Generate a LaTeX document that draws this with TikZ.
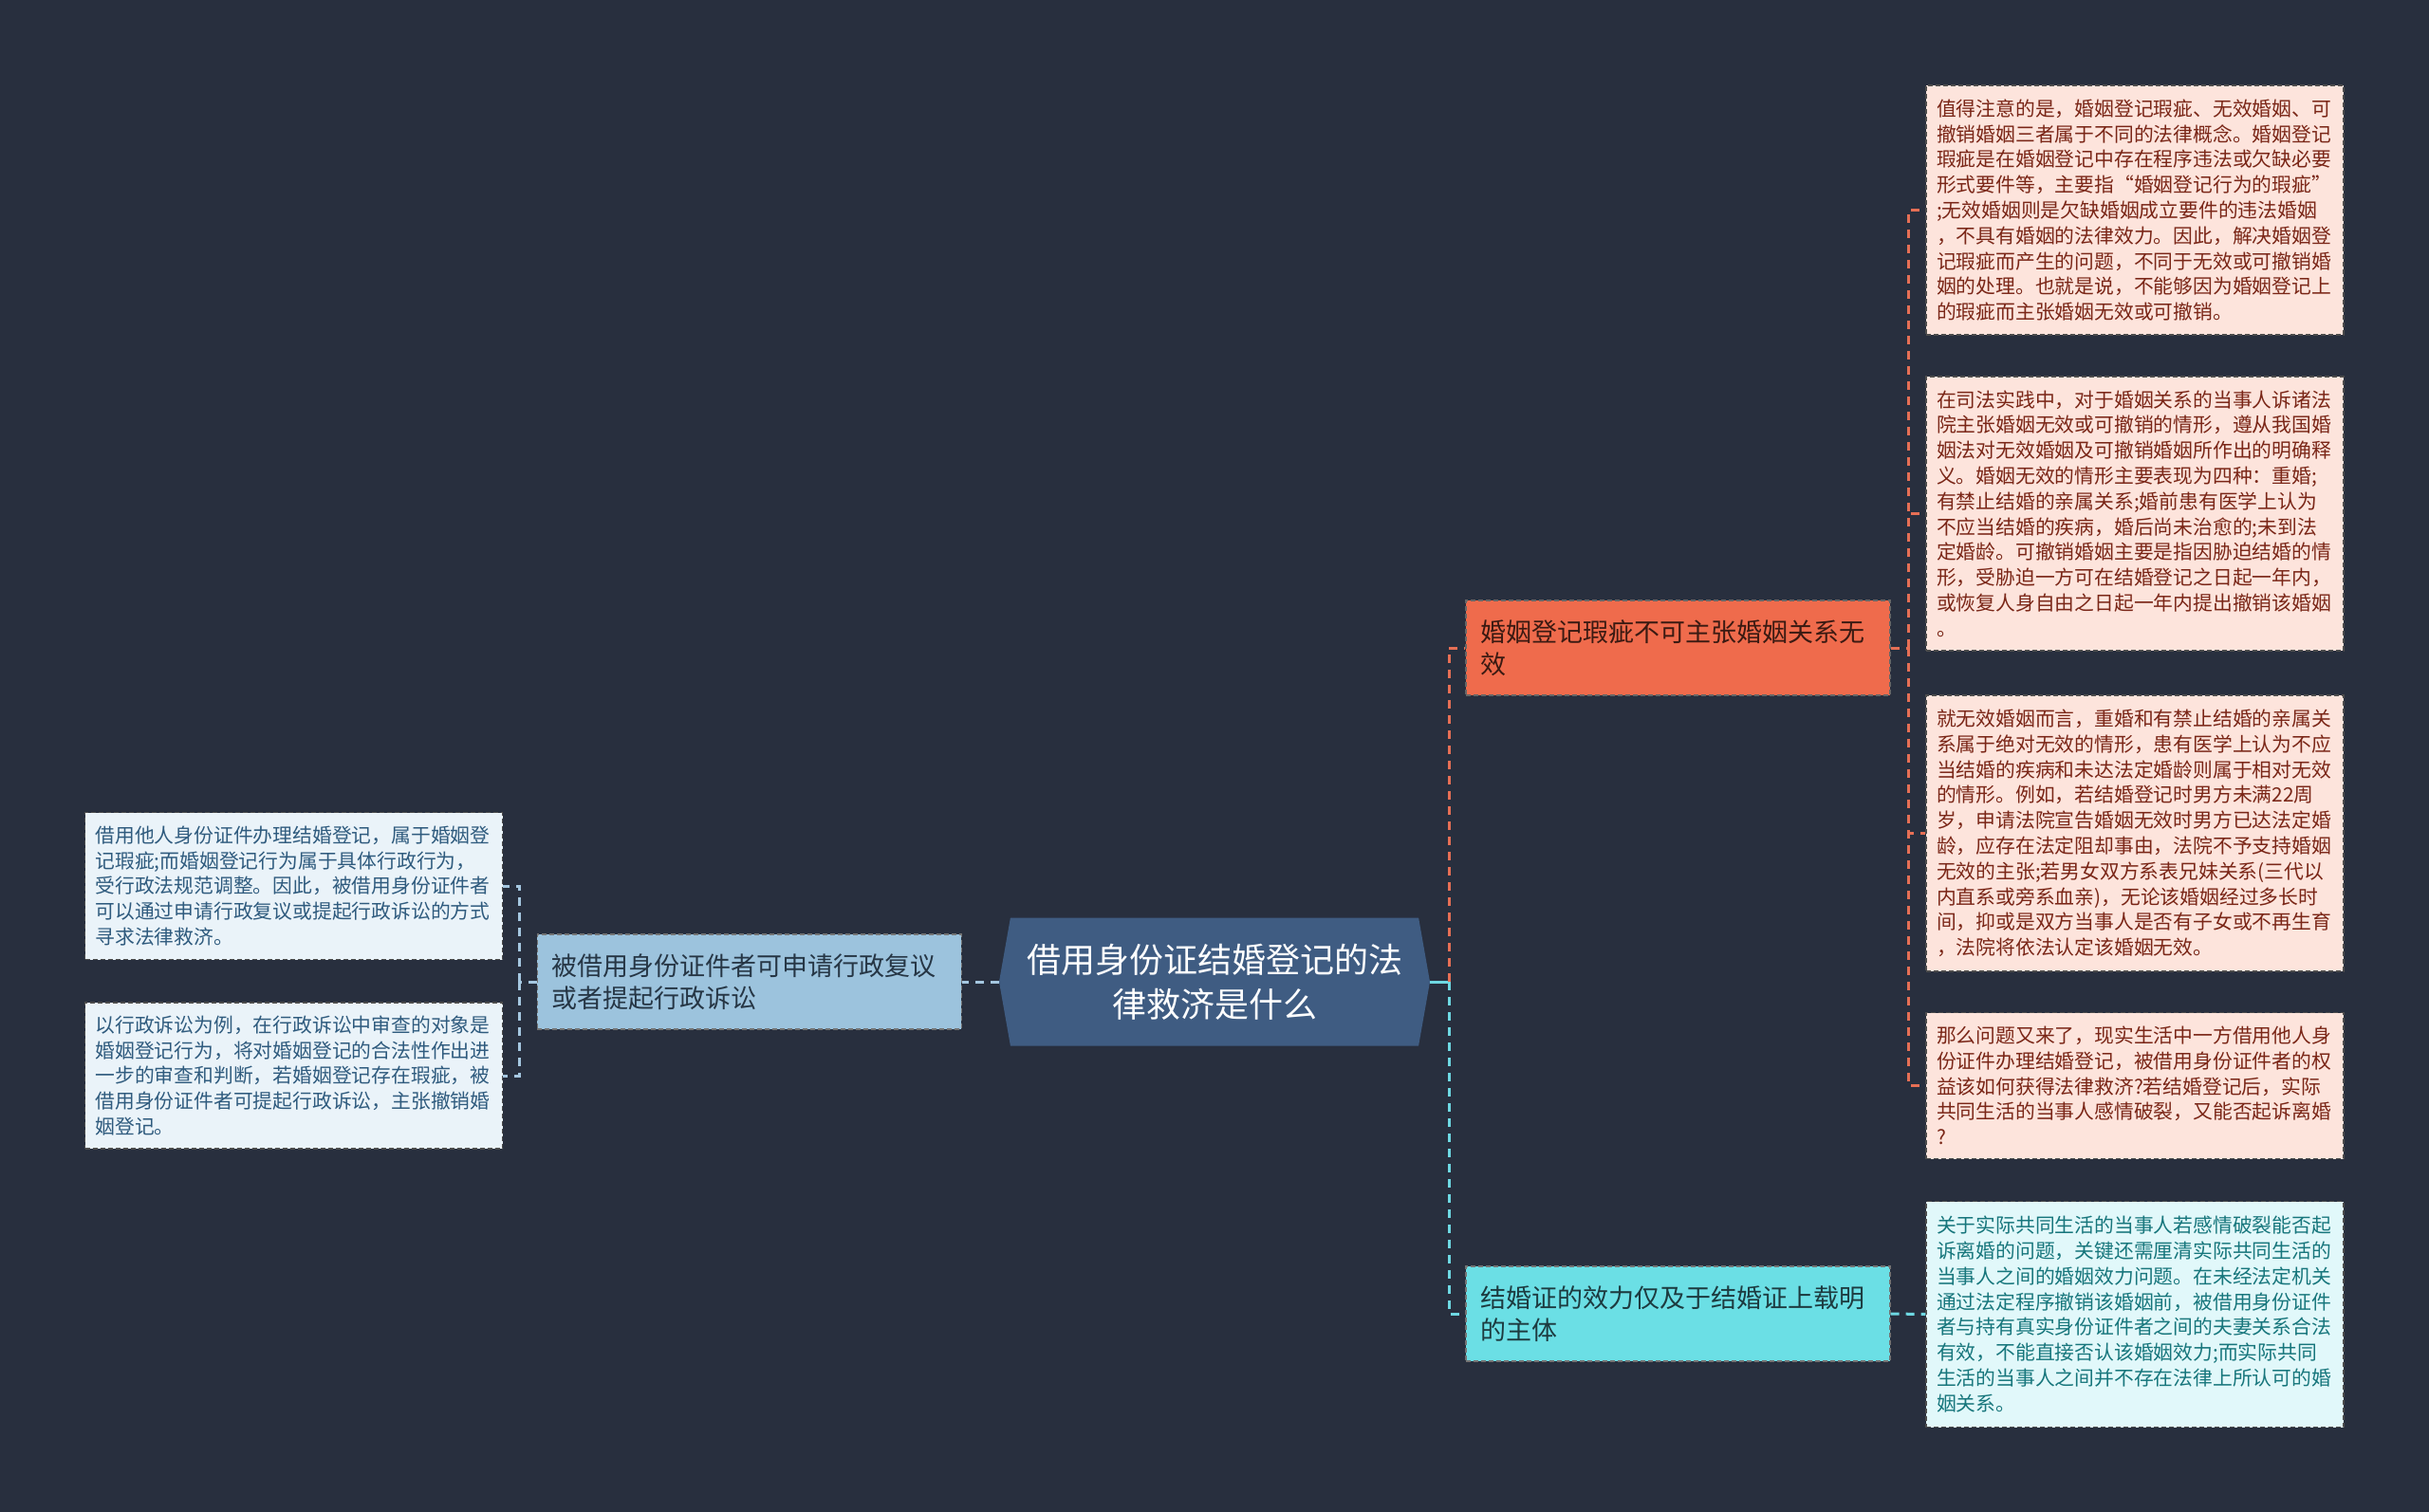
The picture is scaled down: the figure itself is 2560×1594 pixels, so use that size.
\documentclass[tikz,border=0pt]{standalone}
\usepackage{fontspec}
\setmainfont{Noto Sans CJK SC}
\usepackage{xcolor}
\usetikzlibrary{positioning,shapes.symbols}

\definecolor{bgdark}{HTML}{282F3E}
\definecolor{rootfill}{HTML}{3F5C82}
\definecolor{lbfill}{HTML}{9CC3DD}
\definecolor{lbtext}{HTML}{263645}
\definecolor{lleaffill}{HTML}{EAF3F9}
\definecolor{lleaftext}{HTML}{2F5B7E}
\definecolor{orfill}{HTML}{EF6B4C}
\definecolor{ortext}{HTML}{3B1A12}
\definecolor{cyfill}{HTML}{6BDFE5}
\definecolor{cytext}{HTML}{1D3B40}
\definecolor{pinkfill}{HTML}{FDE4DC}
\definecolor{pinktext}{HTML}{7A2617}
\definecolor{icefill}{HTML}{E1F8FA}
\definecolor{icetext}{HTML}{17767C}
\definecolor{orline}{HTML}{E66F55}
\definecolor{cyline}{HTML}{6ED8E2}
\definecolor{lbline}{HTML}{A5C7E0}

\begin{document}
\begin{tikzpicture}[x=1pt, y=-1pt,
  box/.style={draw=black!70, dash pattern=on 5pt off 3pt, line width=1.2pt, align=left, inner ysep=0pt},
  leaf/.style={box, text width=418pt, inner xsep=11pt, font=\fontsize{20.8}{26.8}\selectfont},
  redleaf/.style={leaf, fill=pinkfill, text=pinktext},
  iceleaf/.style={leaf, fill=icefill, text=icetext},
  bluleaf/.style={leaf, fill=lleaffill, text=lleaftext},
  sub/.style={box, text width=416pt, inner xsep=15.5pt, minimum height=100pt, font=\fontsize{27}{34}\selectfont},
  root/.style={shape=signal, signal to=east and west, signal pointer angle=160, fill=rootfill, text=white, align=center, inner sep=0pt, minimum width=454pt, minimum height=135pt, font=\fontsize{36}{47}\selectfont},
  lnk/.style={line width=3pt, dash pattern=on 9pt off 7pt}
]
\fill[bgdark] (0,0) rectangle (2560,1594);

\node[root] (root) at (1280,1035) {借用身份证结婚登记的法\\律救济是什么};

\node[sub, fill=lbfill, text=lbtext, draw=black!55, left=39pt of root] (lb) {被借用身份证件者可申请行政复议\\或者提起行政诉讼};
\node[sub, fill=orfill, text=ortext, draw=black!60] (rb1) at (1768.5,683) {婚姻登记瑕疵不可主张婚姻关系无\\效};
\node[sub, fill=cyfill, text=cytext, draw=black!55] (rb2) at (1768.5,1385) {结婚证的效力仅及于结婚证上载明\\的主体};

% right leaves
\node[redleaf, minimum height=263pt] (r1) at (2250,221.5) {值得注意的是，婚姻登记瑕疵、无效婚姻、可\\撤销婚姻三者属于不同的法律概念。婚姻登记\\瑕疵是在婚姻登记中存在程序违法或欠缺必要\\形式要件等，主要指“婚姻登记行为的瑕疵”\\;无效婚姻则是欠缺婚姻成立要件的违法婚姻\\，不具有婚姻的法律效力。因此，解决婚姻登\\记瑕疵而产生的问题，不同于无效或可撤销婚\\姻的处理。也就是说，不能够因为婚姻登记上\\的瑕疵而主张婚姻无效或可撤销。};
\node[redleaf, minimum height=289pt] (r2) at (2250,541.5) {在司法实践中，对于婚姻关系的当事人诉诸法\\院主张婚姻无效或可撤销的情形，遵从我国婚\\姻法对无效婚姻及可撤销婚姻所作出的明确释\\义。婚姻无效的情形主要表现为四种：重婚;\\有禁止结婚的亲属关系;婚前患有医学上认为\\不应当结婚的疾病，婚后尚未治愈的;未到法\\定婚龄。可撤销婚姻主要是指因胁迫结婚的情\\形，受胁迫一方可在结婚登记之日起一年内，\\或恢复人身自由之日起一年内提出撤销该婚姻\\。};
\node[redleaf, minimum height=291pt] (r3) at (2250,878.5) {就无效婚姻而言，重婚和有禁止结婚的亲属关\\系属于绝对无效的情形，患有医学上认为不应\\当结婚的疾病和未达法定婚龄则属于相对无效\\的情形。例如，若结婚登记时男方未满22周\\岁，申请法院宣告婚姻无效时男方已达法定婚\\龄，应存在法定阻却事由，法院不予支持婚姻\\无效的主张;若男女双方系表兄妹关系(三代以\\内直系或旁系血亲)，无论该婚姻经过多长时\\间，抑或是双方当事人是否有子女或不再生育\\，法院将依法认定该婚姻无效。};
\node[redleaf, minimum height=154pt] (r4) at (2250,1144.5) {那么问题又来了，现实生活中一方借用他人身\\份证件办理结婚登记，被借用身份证件者的权\\益该如何获得法律救济?若结婚登记后，实际\\共同生活的当事人感情破裂，又能否起诉离婚\\?};
\node[iceleaf, minimum height=238pt] (r5) at (2250,1385.5) {关于实际共同生活的当事人若感情破裂能否起\\诉离婚的问题，关键还需厘清实际共同生活的\\当事人之间的婚姻效力问题。在未经法定机关\\通过法定程序撤销该婚姻前，被借用身份证件\\者与持有真实身份证件者之间的夫妻关系合法\\有效，不能直接否认该婚姻效力;而实际共同\\生活的当事人之间并不存在法律上所认可的婚\\姻关系。};

% left leaves
\node[bluleaf, minimum height=155pt] (ll1) at (309.5,934) {借用他人身份证件办理结婚登记，属于婚姻登\\记瑕疵;而婚姻登记行为属于具体行政行为，\\受行政法规范调整。因此，被借用身份证件者\\可以通过申请行政复议或提起行政诉讼的方式\\寻求法律救济。};
\node[bluleaf, minimum height=154pt] (ll2) at (309.5,1134) {以行政诉讼为例，在行政诉讼中审查的对象是\\婚姻登记行为，将对婚姻登记的合法性作出进\\一步的审查和判断，若婚姻登记存在瑕疵，被\\借用身份证件者可提起行政诉讼，主张撤销婚\\姻登记。};

% connectors
\draw[lnk, cyline, solid] (root.east) -- ++(20,0) coordinate (jr);
\draw[lnk, orline] (jr) |- (rb1.west);
\draw[lnk, cyline] (jr) |- (rb2.west);
\draw[lnk, orline] (rb1.east) -- ++(19,0) coordinate (j1);
\foreach \n in {r1,r2,r3,r4}
  \draw[lnk, orline] (j1) |- (\n.west);
\draw[lnk, cyline] (rb2.east) -- (r5.west);
\draw[lnk, lbline] (root.west) -- (lb.east);
\draw[lnk, lbline] (lb.west) -- ++(-18,0) coordinate (jl);
\draw[lnk, lbline] (jl) |- (ll1.east);
\draw[lnk, lbline] (jl) |- (ll2.east);
\end{tikzpicture}
\end{document}
